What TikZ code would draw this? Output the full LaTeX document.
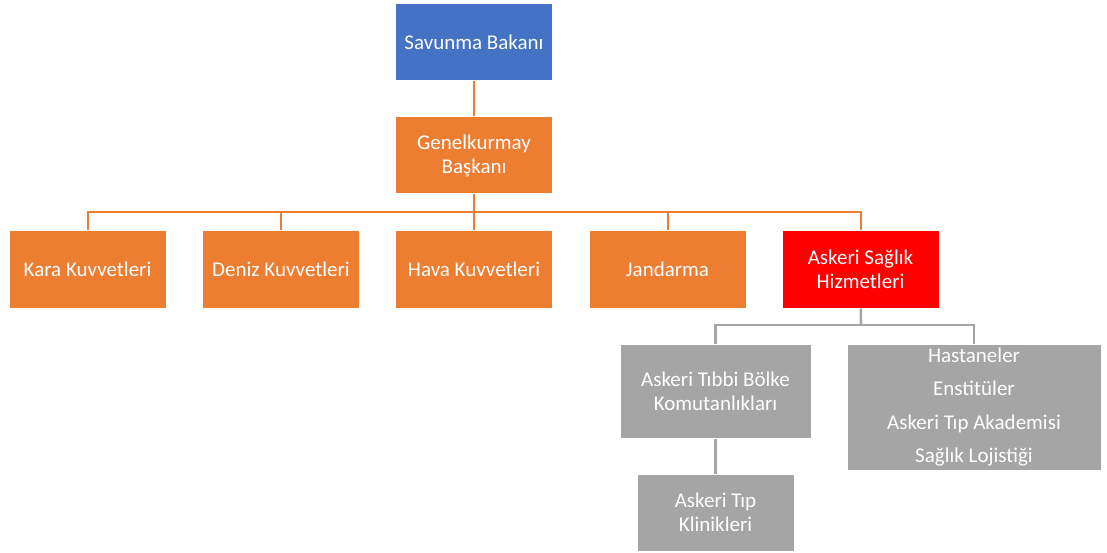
\documentclass[tikz,border=0pt]{standalone}
\usepackage{fontspec}
\setmainfont{Carlito}
\definecolor{cblue}{HTML}{4472C4}
\definecolor{corange}{HTML}{ED7D31}
\definecolor{cred}{HTML}{FF0000}
\definecolor{cgray}{HTML}{A5A5A5}
\begin{document}
\begin{tikzpicture}[x=1pt,y=-1pt,
  box/.style={rectangle, draw=white, line width=1pt, text=white, align=center,
    inner sep=0pt, minimum width=157pt, minimum height=77pt,
    font=\fontsize{21}{24}\selectfont},
  bluebox/.style={box, fill=cblue},
  orangebox/.style={box, fill=corange},
  redbox/.style={box, fill=cred},
  graybox/.style={box, fill=cgray},
  oline/.style={draw=corange, line width=2pt},
  gline/.style={draw=cgray, line width=2.5pt}]
\useasboundingbox (0,0) rectangle (1107,553);

% top of the chain
\node[bluebox] (sb) at (474,42.5) {Savunma Bakanı};
\node[orangebox] (gk) at (474,155.5) {Genelkurmay\\Başkanı};

% branches
\node[orangebox] (kara) at (87.5,269.5) {Kara Kuvvetleri};
\node[orangebox] (deniz) at (281,269.5) {Deniz Kuvvetleri};
\node[orangebox] (hava) at (474,269.5) {Hava Kuvvetleri};
\node[orangebox] (jand) at (667.5,269.5) {Jandarma};
\node[redbox] (ash) at (860.5,269.5) {Askeri Sağlık\\Hizmetleri};

% health services
\node[graybox, minimum width=191pt, minimum height=94pt] (atb) at (715.5,391) {Askeri Tıbbi Bölke\\Komutanlıkları};
\node[graybox, minimum width=254pt, minimum height=126pt,
  font=\fontsize{21}{33.3}\selectfont] (list) at (974,407)
  {Hastaneler\\Enstitüler\\Askeri Tıp Akademisi\\Sağlık Lojistiği};
\node[graybox] (klin) at (715.5,512.5) {Askeri Tıp\\Klinikleri};

% connectors
\coordinate (bus) at (474,212);
\coordinate (gbus) at (861,325);
\draw[oline] (sb) -- (gk);
\draw[oline] (gk) -- (bus);
\draw[oline] (bus) -| (kara.north);
\draw[oline] (bus) -| (deniz.north);
\draw[oline] (bus) -- (hava.north);
\draw[oline] (bus) -| (jand.north);
\draw[oline] (bus) -| (ash.north);
\draw[gline] (ash) -- (gbus);
\draw[gline] (gbus) -| (atb.north);
\draw[gline] (gbus) -| (list.north);
\draw[gline] (atb) -- (klin);
\end{tikzpicture}
\end{document}
